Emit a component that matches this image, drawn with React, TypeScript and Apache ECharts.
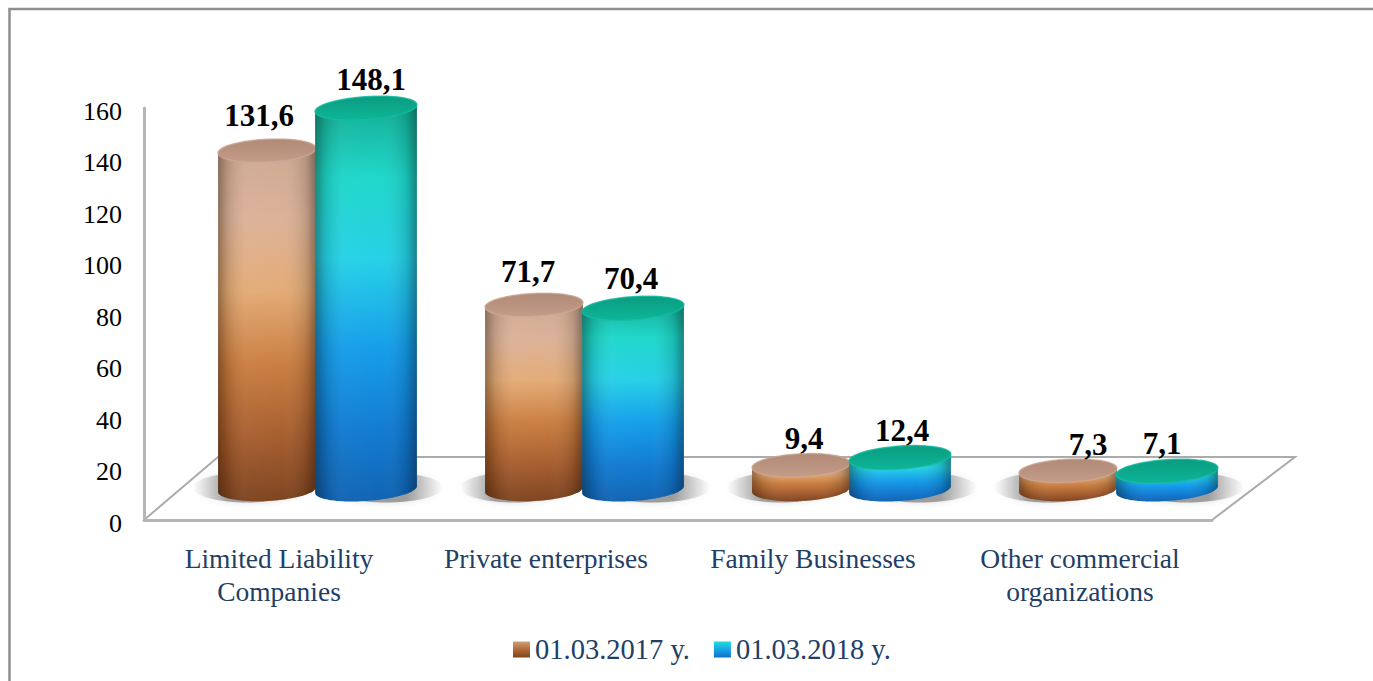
import React, { useEffect, useRef } from "react";
import * as echarts from "echarts";

const categories = ["Limited Liability\nCompanies", "Private enterprises", "Family Businesses", "Other commercial\norganizations"];
const series2017 = [131.6, 71.7, 9.4, 7.3];
const series2018 = [148.1, 70.4, 12.4, 7.1];
const seriesNames = ["01.03.2017 y.", "01.03.2018 y."];
const yTicks = { min: 0, max: 160, interval: 20 };

const labelShift2017: number[][] = [[-8, 2], [-6, 4], [3, 11], [20, 11]];
const labelShift2018: number[][] = [[5, 9], [-2, 8], [2, 10], [-5, 10]];

const FONT = "'Liberation Serif', 'Times New Roman', serif";
const NAVY = "#1F3F66";

const vGrad = (stops: [number, string][]) =>
  new echarts.graphic.LinearGradient(0, 0, 0, 1, stops.map(([offset, color]) => ({ offset, color })));
const hGrad = (stops: [number, string][]) =>
  new echarts.graphic.LinearGradient(0, 0, 1, 0, stops.map(([offset, color]) => ({ offset, color })));

const brownBody = (): any => vGrad([
  [0, "#C9A48F"], [0.22, "#DBB095"], [0.42, "#E3A973"], [0.62, "#C97B3C"], [0.82, "#A55A2A"], [1, "#7A3F1A"],
]);
const tealBody = (): any => vGrad([
  [0, "#0BA68C"], [0.2, "#18D6C8"], [0.4, "#20D0E6"], [0.62, "#0F9BEA"], [0.82, "#0B78D2"], [1, "#0A5FB0"],
]);
const edgeShade = (): any => hGrad([
  [0, "rgba(30,20,10,0.4)"], [0.1, "rgba(30,20,10,0.14)"], [0.3, "rgba(255,255,255,0.05)"],
  [0.66, "rgba(255,255,255,0.03)"], [0.9, "rgba(20,20,20,0.14)"], [1, "rgba(20,20,20,0.42)"],
]);

const ellipsePoints = (cx: number, cy: number, rx: number, ry: number, tilt: number, from = 0, to = Math.PI * 2, n = 72) => {
  const pts: number[][] = [];
  const c = Math.cos(tilt), s = Math.sin(tilt);
  for (let i = 0; i <= n; i++) {
    const a = from + ((to - from) * i) / n;
    const x = rx * Math.cos(a), y = ry * Math.sin(a);
    pts.push([cx + x * c - y * s, cy + x * s + y * c]);
  }
  return pts;
};

const makeSeries = (name: string, values: number[], cfg: any) => ({
  type: "custom",
  name,
  coordinateSystem: "cartesian2d",
  data: values.map((v, i) => [i, v]),
  encode: { x: 0, y: 1 },
  itemStyle: { color: cfg.legend },
  z: cfg.z,
  renderItem: (params: any, api: any) => {
    const i = api.value(0), v = api.value(1);
    const [cx0, y0] = api.coord([i, 0]);
    const [, yv] = api.coord([i, v]);
    const cx = cx0 + cfg.dx;
    const base = y0 - 30.5;
    const top = yv - 30.5;
    const rx = cfg.rx, ry = 11.5;
    const tilt = cfg.tilt;
    const bodyPts = [
      ...ellipsePoints(cx, base, rx, ry, tilt, 0, Math.PI),
      ...ellipsePoints(cx, top, rx, ry, tilt, Math.PI, 2 * Math.PI),
    ];
    const shift = cfg.labels[params.dataIndex];
    const s = (v as number).toFixed(1).replace(".", ",");
    return {
      type: "group",
      children: [
        {
          type: "polygon",
          shape: { points: ellipsePoints(cx + cfg.shadowDx, base - 2, cfg.shadowRx, 15, 0) },
          style: { fill: cfg.shadow(), shadowBlur: 6, shadowColor: "rgba(150,150,150,0.4)" },
        },
        { type: "polygon", shape: { points: bodyPts }, style: { fill: cfg.body() } },
        { type: "polygon", shape: { points: bodyPts }, style: { fill: edgeShade() } },
        {
          type: "polygon",
          shape: { points: ellipsePoints(cx, top, rx, ry, tilt) },
          style: { fill: cfg.cap(), stroke: cfg.capEdge, lineWidth: 1.5 },
        },
        {
          type: "text",
          z2: 50,
          style: {
            text: s, x: cx + shift[0], y: top - ry - 26 + shift[1], textAlign: "center", textVerticalAlign: "middle",
            font: `bold 31px ${FONT}`, fill: "#000",
          },
        },
      ],
    };
  },
});

export default function App() {
  const ref = useRef<HTMLDivElement>(null);
  useEffect(() => {
    const chart = echarts.init(ref.current!, undefined, { renderer: "svg" });
    chart.setOption({
      animation: false,
      backgroundColor: "#fff",
      grid: { left: 144, right: 161, top: 108, bottom: 161 },
      xAxis: {
        type: "category",
        data: categories,
        axisTick: { show: false },
        axisLine: { show: true, lineStyle: { color: "#B5B5B5", width: 3 } },
        axisLabel: { margin: 22, interval: 0, fontFamily: FONT, fontSize: 27.5, lineHeight: 33, color: NAVY, padding: [0, 0, 0, 3] },
      },
      yAxis: {
        type: "value",
        min: yTicks.min,
        max: yTicks.max,
        interval: yTicks.interval,
        splitLine: { show: false },
        axisTick: { show: false },
        axisLine: { show: true, lineStyle: { color: "#B5B5B5", width: 3 } },
        axisLabel: { margin: 22, fontFamily: FONT, fontSize: 26, color: "#000", verticalAlign: "top", lineHeight: 6 },
      },
      legend: {
        left: 508,
        top: 630,
        itemWidth: 17,
        itemHeight: 16,
        itemGap: 24,
        selectedMode: false,
        textStyle: { fontFamily: FONT, fontSize: 28.5, color: NAVY, verticalAlign: "top", lineHeight: 14 },
        data: [
          { name: seriesNames[0], icon: "rect", itemStyle: { color: vGrad([[0, "#D0A079"], [0.5, "#B06A38"], [1, "#7D4419"]]) } },
          { name: seriesNames[1], icon: "rect", itemStyle: { color: vGrad([[0, "#22DCDC"], [0.5, "#1AA4E8"], [1, "#0F70C4"]]) } },
        ],
      },
      graphic: [
        {
          type: "rect",
          z: -1,
          shape: { x: 9.5, y: 9, width: 1400, height: 700 },
          style: { fill: "none", stroke: "#8E8E8E", lineWidth: 2.5 },
        },
        {
          type: "polyline",
          z: 0,
          shape: { points: [[144, 520], [218, 457], [1295, 457], [1212, 520]] },
          style: { fill: "none", stroke: "#ABABAB", lineWidth: 2 },
        },
      ],
      series: [
        makeSeries(seriesNames[0], series2017, {
          dx: -10.5, rx: 49, tilt: -0.05, z: 3, body: brownBody,
          cap: () => vGrad([[0, "#B08A78"], [1, "#C49C88"]]), capEdge: "rgba(205,170,150,0.7)",
          labels: labelShift2017, legend: "#B06A38", shadowDx: -20, shadowRx: 54,
          shadow: () => hGrad([[0, "rgba(170,170,170,0)"], [0.32, "rgba(140,140,140,0.8)"], [1, "rgba(140,140,140,0.85)"]]),
        }),
        makeSeries(seriesNames[1], series2018, {
          dx: 88.5, rx: 51, tilt: -0.07, z: 4, body: tealBody,
          cap: () => vGrad([[0, "#0A9C80"], [1, "#0EB598"]]), capEdge: "rgba(20,190,160,0.75)",
          labels: labelShift2018, legend: "#1AA4E8", shadowDx: 20, shadowRx: 57,
          shadow: () => hGrad([[0, "rgba(140,140,140,0.85)"], [0.68, "rgba(140,140,140,0.8)"], [1, "rgba(170,170,170,0)"]]),
        }),
      ],
    });
    return () => chart.dispose();
  }, []);
  return <div ref={ref} style={{ position: "absolute", left: 0, top: 0, width: 1373, height: 681 }} />;
}
